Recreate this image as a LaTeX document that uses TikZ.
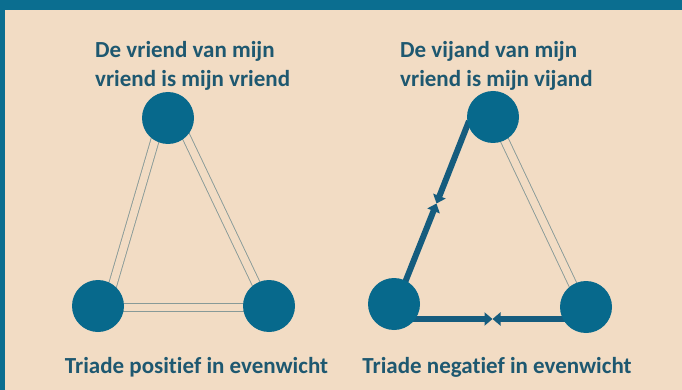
\documentclass[tikz,border=0pt]{standalone}
\usepackage{fontspec}
\setmainfont{Carlito}[RawFeature=-liga]
\usetikzlibrary{arrows.meta}
\definecolor{bg}{HTML}{F2DCC4}
\definecolor{frame}{HTML}{0B6E90}
\definecolor{ball}{HTML}{07698C}
\definecolor{txt}{HTML}{1E5870}
\definecolor{thin}{HTML}{889A98}
\definecolor{thick}{HTML}{155C7E}
\tikzset{
  ball/.style={circle, fill=ball, draw=none, minimum size=52pt, inner sep=0pt},
  lbl/.style={text=txt, font=\bfseries\fontsize{23}{29}\selectfont, align=left, inner sep=0pt},
  dbl/.style={draw=thin, line width=0.9pt, double=bg, double distance=7.5pt},
  neg/.style={draw=thick, line width=6pt, -{Triangle[length=8pt,width=13pt]}},
}
\begin{document}
\begin{tikzpicture}[x=1pt,y=-1pt]
\useasboundingbox (0,0) rectangle (682,390);
\fill[bg] (0,0) rectangle (682,390);
\fill[frame] (0,0) rectangle (682,10);
\fill[frame] (0,0) rectangle (5,390);
% texts
\node[lbl, anchor=base west] (t1) at (95,87) {De vriend van mijn\\vriend is mijn vriend};
\node[lbl, anchor=base west] (t2) at (400,87) {De vijand van mijn\\vriend is mijn vijand};
\node[lbl, anchor=base] (b1) at (196.5,373) {Triade positief in evenwicht};
\node[lbl, anchor=base] (b2) at (497,373) {Triade negatief in evenwicht};
% left triangle
\coordinate (a) at (168,118);
\coordinate (b) at (98,306);
\coordinate (c) at (269,306);
\draw[dbl] ([shift={(-10,12)}]a) -- ([shift={(12,-12)}]b);
\draw[dbl] ([shift={(14,10)}]a) -- ([shift={(-8,-12)}]c);
\draw[dbl] ([shift={(20,1.5)}]b) -- ([shift={(-20,1.5)}]c);
\node[ball] (A) at (a) {};
\node[ball] (B) at (b) {};
\node[ball] (C) at (c) {};
% right triangle
\coordinate (d) at (493,117);
\coordinate (e) at (394,304);
\coordinate (f) at (586,307);
\coordinate (m1) at (436.5,203.5);
\coordinate (m2) at (492.5,319);
\draw[dbl] ([shift={(10,20)}]d) -- ([shift={(-12,-20)}]f);
\draw[neg] ([shift={(-24,4)}]d) -- (m1);
\draw[neg] ([shift={(8,-14)}]e) -- (m1);
\draw[neg] ([shift={(18,15)}]e) -- (m2);
\draw[neg] ([shift={(-20,12)}]f) -- (m2);
\node[ball] (D) at (d) {};
\node[ball] (E) at (e) {};
\node[ball] (F) at (f) {};
\end{tikzpicture}
\end{document}
